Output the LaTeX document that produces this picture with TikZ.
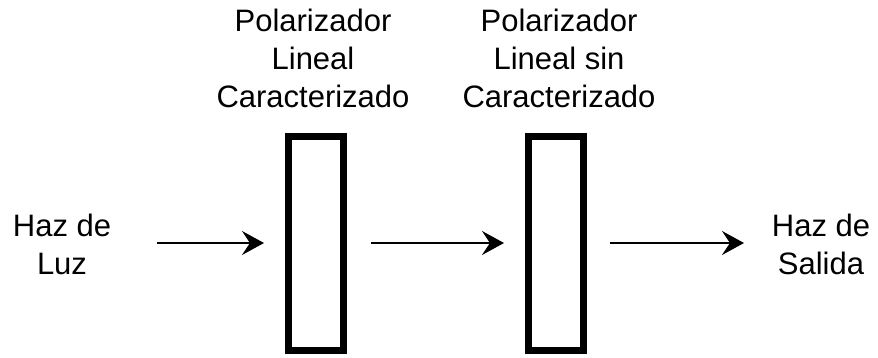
\documentclass[tikz,border=0pt]{standalone}
\usepackage{fontspec}
\setmainfont{Liberation Sans}
\usetikzlibrary{arrows.meta}
\begin{document}
\begin{tikzpicture}[x=1pt,y=-1pt,
  lbl/.style={align=center,inner sep=0pt,font=\fontsize{31}{38}\selectfont},
  plate/.style={draw=black,line width=7pt,fill=white},
  ray/.style={line width=2.2pt,-{Stealth[length=22pt,width=24pt,inset=8pt]}}]
\useasboundingbox (0,0) rectangle (878,358);
\node[lbl] (luz) at (62,244) {Haz de\\Luz};
\node[lbl] (sal) at (821,244) {Haz de\\Salida};
\node[lbl] (t1) at (313,58) {Polarizador\\Lineal\\Caracterizado};
\node[lbl] (t2) at (559,58) {Polarizador\\Lineal sin\\Caracterizado};
\draw[plate] (288.5,136.5) rectangle (343.5,350.5);
\draw[plate] (528.5,136.5) rectangle (583.5,350.5);
\coordinate (a1s) at (157,243);
\coordinate (a1e) at (264,243);
\coordinate (a2s) at (371,243);
\coordinate (a2e) at (504,243);
\coordinate (a3s) at (610,243);
\coordinate (a3e) at (744,243);
\draw[ray] (a1s) -- (a1e);
\draw[ray] (a2s) -- (a2e);
\draw[ray] (a3s) -- (a3e);
\end{tikzpicture}
\end{document}
